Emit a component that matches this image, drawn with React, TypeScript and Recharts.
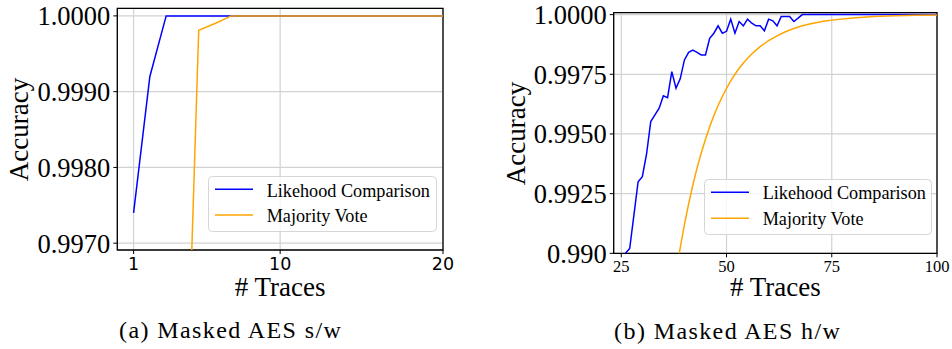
import React from 'react';
import { LineChart, Line, XAxis, YAxis, CartesianGrid, Legend, ReferenceArea } from 'recharts';

// ---------- (a) Masked AES s/w ----------
const swLikelihoodX = [1, 2, 3, 4, 5, 6, 7, 8, 9, 10, 11, 12, 13, 14, 15, 16, 17, 18, 19, 20];
const swLikelihoodY = [0.9974, 0.9992, 1.0, 1.0, 1.0, 1.0, 1.0, 1.0, 1.0, 1.0, 1.0, 1.0, 1.0, 1.0, 1.0, 1.0, 1.0, 1.0, 1.0, 1.0];
const swMajorityX = [4, 5, 6, 7, 8, 9, 10, 11, 12, 13, 14, 15, 16, 17, 18, 19, 20];
const swMajorityY = [0.993, 0.99981, 0.9999, 1.0, 1.0, 1.0, 1.0, 1.0, 1.0, 1.0, 1.0, 1.0, 1.0, 1.0, 1.0, 1.0, 1.0];
const swXTicks = [1, 10, 20];
const swXTickLabels = ['1', '10', '20'];
const swYTicks = [0.997, 0.998, 0.999, 1.0];
const swYTickLabels = ['0.9970', '0.9980', '0.9990', '1.0000'];

// ---------- (b) Masked AES h/w ----------
const hwLikelihoodX = [
  26, 27, 28, 29, 30, 31, 32, 33, 34, 35, 36, 37, 38, 39, 40, 41, 42, 43, 44, 45, 46, 47,
  48, 49, 50, 51, 52, 53, 54, 55, 56, 57, 58, 59, 60, 61, 62, 63, 64, 65, 66, 67, 68, 100,
];
const hwLikelihoodY = [
  0.99, 0.9902, 0.9916, 0.993, 0.99321, 0.99415, 0.99552, 0.9958, 0.99608, 0.9966, 0.99652,
  0.99761, 0.99692, 0.99731, 0.9981, 0.99842, 0.99851, 0.99842, 0.99831, 0.99831, 0.99901,
  0.99922, 0.99953, 0.99922, 0.9993, 0.99981, 0.99922, 0.99971, 0.99953, 0.99981, 0.99964,
  0.99953, 0.99953, 0.99932, 0.99981, 0.99974, 0.99953, 0.99992, 0.99992, 0.99992, 0.99971,
  0.99985, 1.0, 1.0,
];
const hwMajorityX = [
  38, 39, 40, 41, 42, 43, 44, 45, 46, 47, 48, 49, 50, 51, 52, 53, 54, 55, 56, 57, 58, 59, 60,
  62, 64, 66, 68, 70, 73, 76, 80, 85, 90, 95, 100,
];
const hwMajorityY = [
  0.9892, 0.99023, 0.9912, 0.99207, 0.99286, 0.99357, 0.9942, 0.99478, 0.9953, 0.99577,
  0.99619, 0.99657, 0.99691, 0.99722, 0.9975, 0.99775, 0.99797, 0.99817, 0.99835, 0.99851,
  0.99866, 0.99879, 0.99891, 0.99911, 0.99928, 0.99942, 0.99953, 0.99962, 0.99972, 0.99979,
  0.99986, 0.99992, 0.99995, 0.99997, 0.99998,
];
const hwXTicks = [25, 50, 75, 100];
const hwXTickLabels = ['25', '50', '75', '100'];
const hwYTicks = [0.99, 0.9925, 0.995, 0.9975, 1.0];
const hwYTickLabels = ['0.990', '0.9925', '0.9950', '0.9975', '1.0000'];

const seriesNames = ['Likehood Comparison', 'Majority Vote'];
const seriesColors = ['#0000ff', '#ffa500'];
const xTitle = '# Traces';
const yTitle = 'Accuracy';

const SERIF = '"Times New Roman", serif';
const SANS = '"DejaVu Sans", sans-serif';

const toPoints = (xs: number[], ys: number[]) => xs.map((x, i) => ({ x, y: ys[i] }));

type PanelCfg = {
  left: number;
  width: number;
  plotLeft: number;
  plotRight: number;
  plotTop: number;
  plotBottom: number;
  xDomain: [number, number];
  yDomain: [number, number];
  xTicks: number[];
  xLabels: string[];
  yTicks: number[];
  yLabels: string[];
  xTickFont: { fontFamily: string; fontSize: number };
  xTickMargin: number;
  series: { x: number[]; y: number[] }[];
  caption: string;
  captionX: number;
  captionY: number;
  xTitleY: number;
  yTitleX: number;
  legend: { left: number; top: number; width: number; height: number; rowY: number[]; textY: number[] };
};

const H = 349;

function LegendBox({ lg }: { lg: PanelCfg['legend'] }) {
  return (
    <svg width={lg.width} height={lg.height} style={{ display: 'block', overflow: 'visible' }}>
      <rect x={0.5} y={0.5} width={lg.width - 1} height={lg.height - 1} rx={4} ry={4}
        fill="rgba(255,255,255,0.8)" stroke="#d6d6d6" strokeWidth={1} />
      {seriesNames.map((name, i) => (
        <g key={name}>
          <line x1={7} x2={45} y1={lg.rowY[i]} y2={lg.rowY[i]} stroke={seriesColors[i]} strokeWidth={1.6} />
          <text x={58.7} y={lg.textY[i]} style={{ fontFamily: SERIF, fontSize: 18.2, fill: '#000' }}>{name}</text>
        </g>
      ))}
    </svg>
  );
}

// HTML text placed by its baseline (Times metrics: baseline ≈ top + 0.8375·fs with line-height 1)
function HtmlText({ cx, baseline, fs, children, spacing = 0 }: any) {
  const top = baseline - 0.8375 * fs;
  return (
    <div style={{
      position: 'absolute', left: cx - 200, top, width: 400, height: fs, lineHeight: `${fs}px`,
      textAlign: 'center', fontFamily: SERIF, fontSize: fs, color: '#000', whiteSpace: 'nowrap',
      letterSpacing: spacing, textIndent: spacing,
    }}>{children}</div>
  );
}

function Panel({ cfg }: { cfg: PanelCfg }) {
  const rightMargin = cfg.width - cfg.plotRight;
  const xAxisH = H - cfg.plotBottom;
  const plotCx = (cfg.plotLeft + cfg.plotRight) / 2;
  const plotCy = (cfg.plotTop + cfg.plotBottom) / 2;

  const XTick = (p: any) => {
    const idx = cfg.xTicks.indexOf(p.payload.value);
    return (
      <text x={p.x} y={p.y} dy="0.71em" textAnchor="middle"
        style={{ fontFamily: cfg.xTickFont.fontFamily, fontSize: cfg.xTickFont.fontSize, fill: '#000' }}>
        {cfg.xLabels[idx] ?? String(p.payload.value)}
      </text>
    );
  };
  const YTick = (p: any) => {
    const idx = cfg.yTicks.indexOf(p.payload.value);
    return (
      <text x={p.x} y={p.y} dy="0.355em" textAnchor="end"
        style={{ fontFamily: SERIF, fontSize: 26.5, fill: '#000' }}>
        {cfg.yLabels[idx] ?? String(p.payload.value)}
      </text>
    );
  };

  const yfs = 27;
  return (
    <div style={{ position: 'absolute', left: cfg.left, top: 0, width: cfg.width, height: H }}>
      <LineChart width={cfg.width} height={H}
        margin={{ top: cfg.plotTop, right: rightMargin, bottom: 0, left: 0 }}>
        <CartesianGrid stroke="#d2d2d2" strokeWidth={1.2} />
        <XAxis type="number" dataKey="x" domain={cfg.xDomain} ticks={cfg.xTicks} interval={0}
          allowDataOverflow height={xAxisH} axisLine={false}
          tickSize={4} tickMargin={cfg.xTickMargin} tickLine={{ stroke: '#000', strokeWidth: 1 }}
          tick={XTick} />
        <YAxis type="number" dataKey="y" domain={cfg.yDomain} ticks={cfg.yTicks} interval={0}
          allowDataOverflow width={cfg.plotLeft} axisLine={false}
          tickSize={4} tickMargin={3} tickLine={{ stroke: '#000', strokeWidth: 1 }}
          tick={YTick} />
        {cfg.series.map((s, i) => (
          <Line key={seriesNames[i]} data={toPoints(s.x, s.y)} dataKey="y" name={seriesNames[i]}
            type="linear" stroke={seriesColors[i]} strokeWidth={1.5} dot={false} activeDot={false}
            isAnimationActive={false} />
        ))}
        <ReferenceArea x1={cfg.xDomain[0]} x2={cfg.xDomain[1]} y1={cfg.yDomain[0]} y2={cfg.yDomain[1]}
          fill="none" stroke="#000" strokeWidth={1.3} fillOpacity={0} ifOverflow="visible" />
        <Legend layout="horizontal" verticalAlign="middle" align="center"
          wrapperStyle={{ left: cfg.legend.left, top: cfg.legend.top, width: cfg.legend.width, height: cfg.legend.height }}
          content={() => <LegendBox lg={cfg.legend} />} />
      </LineChart>
      <HtmlText cx={plotCx} baseline={cfg.xTitleY} fs={27}>{xTitle}</HtmlText>
      <HtmlText cx={cfg.captionX} baseline={cfg.captionY} fs={24} spacing={1.4}>{cfg.caption}</HtmlText>
      <div style={{
        position: 'absolute', left: cfg.yTitleX - 0.3375 * yfs - 100, top: plotCy - yfs / 2,
        width: 200, height: yfs, lineHeight: `${yfs}px`, textAlign: 'center', fontFamily: SERIF,
        fontSize: yfs, color: '#000', whiteSpace: 'nowrap', transform: 'rotate(-90deg)',
      }}>{yTitle}</div>
    </div>
  );
}

const panelA: PanelCfg = {
  left: 0,
  width: 470,
  plotLeft: 117.3,
  plotRight: 443,
  plotTop: 8.3,
  plotBottom: 250,
  xDomain: [0, 20],
  yDomain: [0.99691, 1.0001],
  xTicks: swXTicks,
  xLabels: swXTickLabels,
  yTicks: swYTicks,
  yLabels: swYTickLabels,
  xTickFont: { fontFamily: SANS, fontSize: 17.5 },
  xTickMargin: 4,
  series: [
    { x: swLikelihoodX, y: swLikelihoodY },
    { x: swMajorityX, y: swMajorityY },
  ],
  caption: '(a) Masked AES s/w',
  captionX: 230,
  captionY: 338.5,
  xTitleY: 297,
  yTitleX: 28,
  legend: { left: 208, top: 176, width: 229, height: 56, rowY: [13.3, 39], textY: [20.7, 45.7] },
};

const panelB: PanelCfg = {
  left: 480,
  width: 472,
  plotLeft: 133.7,
  plotRight: 457,
  plotTop: 12.7,
  plotBottom: 253.3,
  xDomain: [23.2, 100],
  yDomain: [0.99, 1.00008],
  xTicks: hwXTicks,
  xLabels: hwXTickLabels,
  yTicks: hwYTicks,
  yLabels: hwYTickLabels,
  xTickFont: { fontFamily: SERIF, fontSize: 16.5 },
  xTickMargin: 3,
  series: [
    { x: hwLikelihoodX, y: hwLikelihoodY },
    { x: hwMajorityX, y: hwMajorityY },
  ],
  caption: '(b) Masked AES h/w',
  captionX: 247,
  captionY: 339,
  xTitleY: 296.7,
  yTitleX: 45,
  legend: { left: 224, top: 179, width: 228, height: 56, rowY: [13.3, 39.3], textY: [20.3, 46] },
};

export default function App() {
  return (
    <div style={{ position: 'absolute', left: 0, top: 0, width: 952, height: H, background: '#fff', fontFamily: SERIF }}>
      <Panel cfg={panelA} />
      <Panel cfg={panelB} />
    </div>
  );
}
